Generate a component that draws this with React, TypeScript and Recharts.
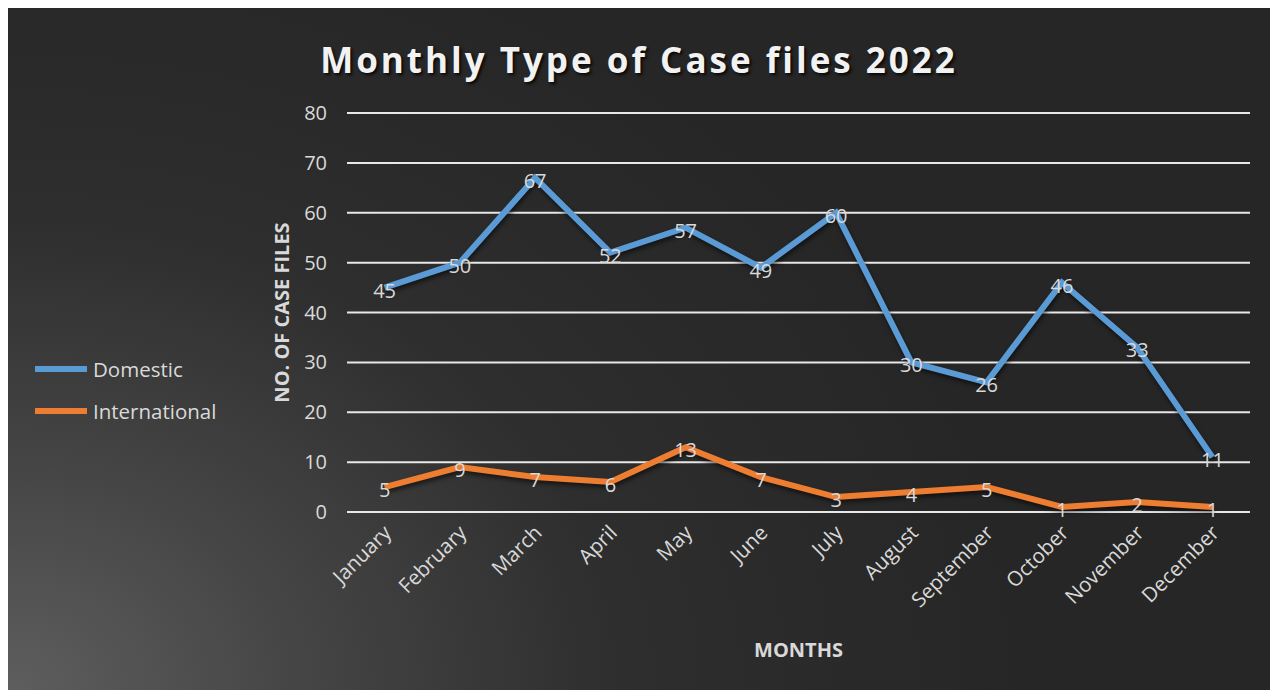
import React from "react";
import {
    LineChart,
    Line,
    XAxis,
    YAxis,
    CartesianGrid,
    Legend,
} from "recharts";

const months = [
    "January",
    "February",
    "March",
    "April",
    "May",
    "June",
    "July",
    "August",
    "September",
    "October",
    "November",
    "December",
];
const domestic = [45, 50, 67, 52, 57, 49, 60, 30, 26, 46, 33, 11];
const international = [5, 9, 7, 6, 13, 7, 3, 4, 5, 1, 2, 1];
const yTicks = [0, 10, 20, 30, 40, 50, 60, 70, 80];

const FONT = "'Open Sans', sans-serif";
const TEXT = "#d9d9d9";
const BLUE = "#5b9bd5";
const ORANGE = "#ed7d31";

const chartData = months.map((m, i) => ({
    month: m,
    Domestic: domestic[i],
    International: international[i],
}));

const MonthTick = ({ x, y, payload }: any) => (
    <g transform={`translate(${x + 8},${y + 14})`}>
        <text
            x={0}
            y={0}
            textAnchor="end"
            transform="rotate(-45)"
            fill={TEXT}
            fontSize={20.5}
            fontFamily={FONT}
        >
            {payload.value}
        </text>
    </g>
);

const renderValue = (p: any) => (
    <text
        key={`lbl-${p.index}`}
        x={p.x}
        y={p.y + 10}
        textAnchor="middle"
        fill={TEXT}
        fontSize={20}
        fontFamily={FONT}
    >
        {p.value}
    </text>
);

const LegendBox = ({ payload }: any) => (
    <div style={{ fontFamily: FONT }}>
        {(payload || []).map((item: any) => (
            <div
                key={item.value}
                style={{ display: "flex", alignItems: "center", height: 42 }}
            >
                <span
                    style={{
                        width: 52,
                        height: 6,
                        background: item.color,
                        marginRight: 6,
                    }}
                />
                <span style={{ color: TEXT, fontSize: 20.5 }}>{item.value}</span>
            </div>
        ))}
    </div>
);

export default function App() {
    return (
        <div
            style={{
                position: "relative",
                width: 1270,
                height: 682,
                background:
                    "radial-gradient(ellipse 80% 115% at 0% 100%, #5e5e5e 0%, #444444 30%, #2e2e2e 60%, #262626 100%)",
            }}
        >
            <style>{`.recharts-line-curve { filter: drop-shadow(1px 3px 2px rgba(0,0,0,0.55)); }`}</style>
            <div
                style={{
                    position: "absolute",
                    top: 28,
                    left: 0,
                    width: 1270,
                    textAlign: "center",
                    fontFamily: FONT,
                    fontWeight: 700,
                    fontSize: 35,
                    letterSpacing: 3,
                    color: "#f2f2f2",
                    textShadow: "2px 2px 3px rgba(0,0,0,0.8)",
                    marginLeft: -4,
                }}
            >
                Monthly Type of Case files 2022
            </div>
            <LineChart
                width={1270}
                height={682}
                data={chartData}
                margin={{ top: 105, right: 28, bottom: 28, left: 0 }}
            >
                <CartesianGrid
                    vertical={false}
                    stroke="#e8e8e8"
                    strokeWidth={2}
                />
                <XAxis
                    dataKey="month"
                    axisLine={false}
                    tickLine={false}
                    height={150}
                    interval={0}
                    padding={{ left: 37.6, right: 37.6 }}
                    tick={<MonthTick />}
                    label={{
                        value: "MONTHS",
                        position: "insideBottom",
                        offset: 5,
                        fill: TEXT,
                        fontSize: 20,
                        fontWeight: 700,
                        fontFamily: FONT,
                    }}
                />
                <YAxis
                    domain={[0, 80]}
                    ticks={yTicks}
                    width={119}
                    axisLine={false}
                    tickLine={false}
                    tickSize={0}
                    tickMargin={20}
                    tick={{ fill: TEXT, fontSize: 20, fontFamily: FONT }}
                    label={{
                        value: "NO. OF CASE FILES",
                        angle: -90,
                        position: "center",
                        dx: -6,
                        fill: TEXT,
                        fontSize: 20,
                        fontWeight: 700,
                        fontFamily: FONT,
                    }}
                />
                <Legend
                    layout="vertical"
                    align="left"
                    verticalAlign="middle"
                    width={220}
                    content={<LegendBox />}
                    wrapperStyle={{ left: 27, top: 340 }}
                />
                <Line
                    type="linear"
                    dataKey="Domestic"
                    stroke={BLUE}
                    strokeWidth={6}
                    dot={false}
                    label={renderValue}
                    isAnimationActive={false}
                />
                <Line
                    type="linear"
                    dataKey="International"
                    stroke={ORANGE}
                    strokeWidth={6}
                    dot={false}
                    label={renderValue}
                    isAnimationActive={false}
                />
            </LineChart>
        </div>
    );
}
